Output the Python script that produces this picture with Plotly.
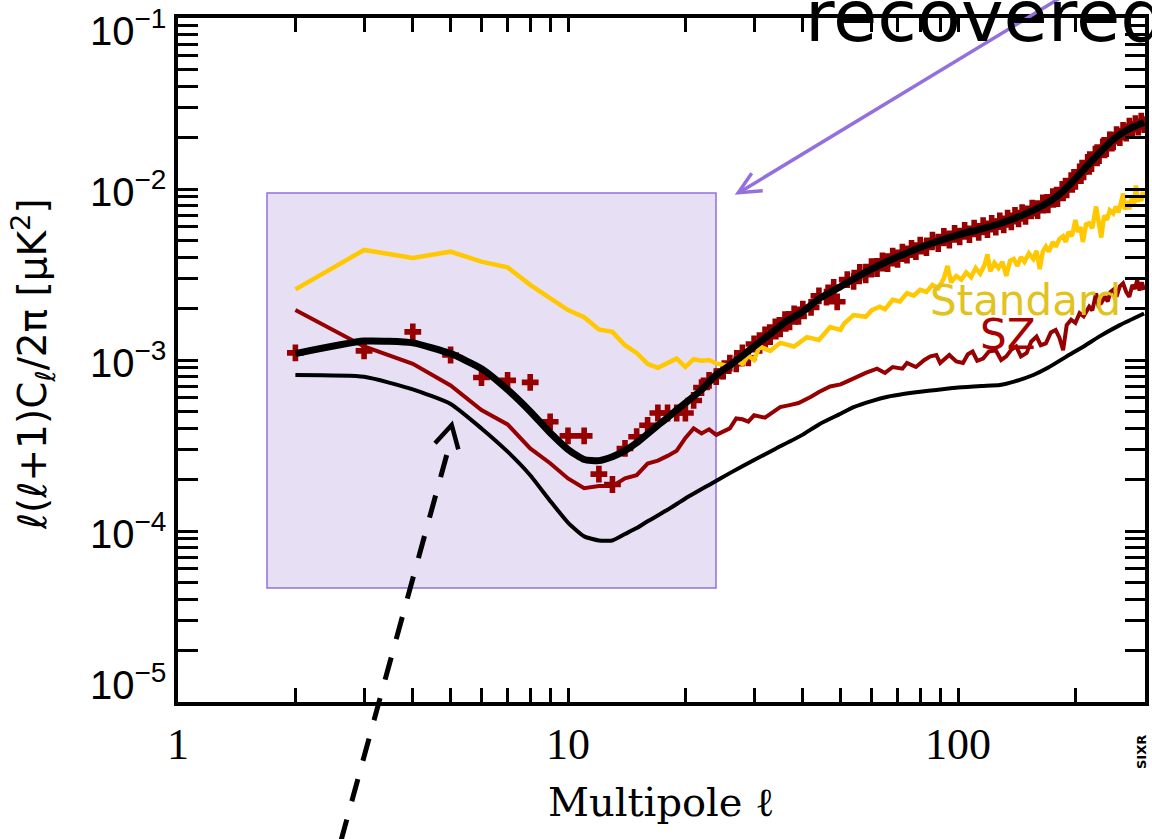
import math
import plotly.graph_objects as go

# ---------------- data ----------------
# thick black: recovered theory spectrum
ell_theory = [2, 3, 4, 5, 6, 7, 8, 9, 10, 11, 12, 13, 14, 15, 16, 17, 18, 19, 20, 22, 24, 26, 28, 30,
              33, 36, 40, 44, 48, 54, 60, 66, 72, 80, 90, 100, 115, 130, 150, 165, 180, 195, 210,
              230, 250, 275, 300]
cl_theory = [1.09e-3, 1.29e-3, 1.26e-3, 1.09e-3, 8.9e-4, 6.7e-4, 5.0e-4, 3.75e-4, 3.0e-4, 2.62e-4,
             2.58e-4, 2.72e-4, 2.95e-4, 3.28e-4, 3.7e-4, 4.15e-4, 4.6e-4, 5.1e-4, 5.6e-4, 6.7e-4,
             8.2e-4, 9.3e-4, 1.06e-3, 1.2e-3, 1.42e-3, 1.66e-3, 1.92e-3, 2.28e-3, 2.55e-3, 2.98e-3,
             3.4e-3, 3.78e-3, 4.12e-3, 4.55e-3, 5.0e-3, 5.4e-3, 5.85e-3, 6.35e-3, 7.2e-3, 8.0e-3,
             9.1e-3, 1.08e-2, 1.3e-2, 1.62e-2, 1.95e-2, 2.25e-2, 2.45e-2]

# thin black: lower theory spectrum
ell_low = [2, 3, 4, 5, 6, 7, 8, 9, 10, 11, 12, 13, 14, 15, 16, 18, 20, 23, 26, 30, 34, 40, 44, 50,
           54, 60, 66, 73, 80, 88, 100, 115, 128, 140, 156, 170, 190, 210, 230, 260, 300]
cl_low = [8.17e-4, 7.98e-4, 6.74e-4, 5.53e-4, 3.98e-4, 2.91e-4, 2.12e-4, 1.5e-4, 1.12e-4, 9.3e-5,
          8.8e-5, 8.8e-5, 9.6e-5, 1.04e-4, 1.14e-4, 1.33e-4, 1.55e-4, 1.86e-4, 2.18e-4, 2.6e-4,
          3.02e-4, 3.66e-4, 4.2e-4, 4.85e-4, 5.3e-4, 5.75e-4, 6.1e-4, 6.35e-4, 6.53e-4, 6.68e-4,
          6.9e-4, 7.05e-4, 7.14e-4, 7.5e-4, 8.17e-4, 9.0e-4, 1.05e-3, 1.2e-3, 1.37e-3, 1.6e-3,
          1.87e-3]

# dark red crosses: recovered data points
ell_data = [2, 3, 4, 5, 6, 7, 8, 9, 10, 11, 12, 13, 14, 15, 16, 17, 18, 19, 20, 21, 22, 23, 24, 25,
            26, 27, 28, 29, 30, 31, 32, 33, 34, 35, 36, 37, 38, 39, 40, 42, 44, 46, 48, 49, 52, 54,
            56, 58, 60, 62, 64, 66, 68, 70, 72, 74, 76, 78, 80, 83, 86, 89, 92, 95, 98, 101, 104,
            107, 110, 113, 116, 119, 122, 125, 128, 131, 134, 137, 140, 143, 146, 149, 155, 160,
            165, 170, 175, 180, 185, 190, 195, 200, 205, 210, 215, 220, 225, 230, 235, 240, 245,
            250, 255, 260, 265, 270, 275, 280, 285, 290, 295, 300]
cl_data = [1.10e-3, 1.13e-3, 1.46e-3, 1.07e-3, 7.9e-4, 7.6e-4, 7.4e-4, 4.35e-4, 3.6e-4, 3.6e-4,
           2.15e-4, 1.87e-4, 3.04e-4, 3.56e-4, 4.15e-4, 4.9e-4, 4.9e-4, 4.9e-4, 4.9e-4, 5.8e-4,
           6.9e-4, 7.6e-4, 8.0e-4, 8.6e-4,
           9.6e-4, 9.5e-4, 1.1e-3, 1.03e-3, 1.24e-3, 1.22e-3, 1.4e-3, 1.37e-3, 1.56e-3, 1.52e-3,
           1.72e-3, 1.67e-3, 1.86e-3, 1.8e-3, 1.98e-3, 2.03e-3, 2.37e-3, 2.33e-3, 2.66e-3, 2.19e-3,
           2.95e-3, 2.88e-3, 3.25e-3, 3.15e-3, 3.52e-3, 3.42e-3, 3.8e-3, 3.66e-3, 4.05e-3, 3.88e-3,
           4.27e-3, 4.1e-3, 4.5e-3, 4.3e-3, 4.7e-3, 4.55e-3, 5.02e-3, 4.8e-3, 5.28e-3, 5.03e-3,
           5.5e-3, 5.25e-3, 5.72e-3, 5.42e-3, 5.9e-3, 5.58e-3, 6.1e-3, 5.78e-3, 6.3e-3, 5.98e-3,
           6.5e-3, 6.17e-3, 6.75e-3, 6.43e-3, 7.02e-3, 6.68e-3, 7.28e-3, 6.92e-3, 7.72e-3, 7.47e-3,
           8.29e-3, 8.08e-3, 9.01e-3, 8.8e-3, 9.94e-3, 9.87e-3, 1.12e-2, 1.11e-2, 1.26e-2, 1.26e-2,
           1.43e-2, 1.41e-2, 1.6e-2, 1.57e-2, 1.76e-2, 1.72e-2, 1.94e-2, 1.89e-2, 2.08e-2, 2.0e-2,
           2.2e-2, 2.12e-2, 2.33e-2, 2.22e-2, 2.41e-2, 2.3e-2, 2.49e-2, 2.38e-2]

# gold: "Standard" reconstruction
ell_std = [2, 3, 4, 5, 6, 7, 8, 9, 10, 11, 12, 13, 14, 15, 16, 17, 18, 19, 20, 21, 22, 23, 24, 25,
           26, 27, 28, 29, 30, 31, 33, 35, 38, 41, 44, 47, 50, 51, 54, 58, 60, 63, 65, 68, 71, 74,
           77, 80, 83, 86, 89, 92, 94, 96, 99, 102, 105, 108, 111, 114, 117, 119, 121, 124, 127,
           130, 133, 136, 139, 142, 145, 148, 152, 156, 159, 162, 165, 168, 171, 175, 178, 182,
           186, 189, 192, 196, 200, 203, 206, 209, 213, 217, 221, 226, 229, 233, 237, 241, 245,
           250, 254, 258, 262, 265, 268, 272, 275, 279, 283, 286, 289, 292, 295, 298, 300]
cl_std = [2.59e-3, 4.4e-3, 3.95e-3, 4.3e-3, 3.76e-3, 3.48e-3, 2.75e-3, 2.3e-3, 1.96e-3, 1.78e-3,
          1.51e-3, 1.46e-3, 1.22e-3, 1.10e-3, 9.5e-4, 9.0e-4, 9.55e-4, 1.02e-3, 9.1e-4, 1.01e-3,
          9.9e-4, 1.0e-3, 9.55e-4, 9.3e-4, 9.2e-4, 9.9e-4, 9.5e-4, 1.06e-3, 1.0e-3, 1.2e-3,
          1.13e-3, 1.26e-3, 1.2e-3, 1.36e-3, 1.31e-3, 1.56e-3, 1.5e-3, 1.63e-3, 1.83e-3, 1.79e-3,
          1.95e-3, 2.05e-3, 1.98e-3, 2.25e-3, 2.2e-3, 2.46e-3, 2.38e-3, 2.57e-3, 2.5e-3, 2.75e-3,
          2.62e-3, 3.0e-3, 3.55e-3, 2.85e-3, 3.1e-3, 2.95e-3, 3.25e-3, 3.05e-3, 3.45e-3, 3.2e-3,
          3.6e-3, 4.15e-3, 3.3e-3, 3.7e-3, 3.45e-3, 3.75e-3, 3.1e-3, 3.8e-3, 3.9e-3, 3.55e-3,
          4.0e-3, 3.75e-3, 4.2e-3, 3.9e-3, 4.35e-3, 3.4e-3, 4.3e-3, 4.6e-3, 4.3e-3, 4.9e-3, 4.6e-3,
          5.1e-3, 5.3e-3, 4.9e-3, 5.6e-3, 5.3e-3, 6.6e-3, 5.6e-3, 6.0e-3, 4.9e-3, 6.2e-3, 6.3e-3,
          5.9e-3, 7.9e-3, 6.4e-3, 5.2e-3, 7.0e-3, 6.6e-3, 7.5e-3, 7.2e-3, 7.9e-3, 7.3e-3, 8.4e-3,
          9.4e-3, 7.6e-3, 8.5e-3, 7.6e-3, 8.8e-3, 8.2e-3, 1.05e-2, 8.4e-3, 9.2e-3, 8.5e-3, 9.6e-3,
          8.9e-3]

# dark red thin line: "SZ" reconstruction
ell_sz = [2, 3, 4, 5, 6, 7, 8, 9, 10, 11, 12, 13, 14, 15, 16, 17, 18, 19, 20, 21, 22, 23, 24, 26,
          27, 28, 29, 30, 32, 34, 35, 37, 39, 42, 44, 47, 50, 52, 55, 58, 62, 65, 68, 72, 74, 78,
          82, 85, 88, 90, 95, 99, 103, 106, 109, 112, 116, 120, 125, 129, 133, 137, 141, 145, 150,
          154, 159, 163, 168, 173, 178, 182, 186, 190, 195, 200, 205, 210, 217, 221, 226, 229,
          233, 238, 242, 246, 250, 255, 260, 265, 270, 275, 280, 284, 288, 292, 296, 300]
cl_sz = [1.96e-3, 1.20e-3, 9.5e-4, 7.1e-4, 5.1e-4, 4.2e-4, 3.04e-4, 2.49e-4, 2.03e-4, 1.78e-4,
         1.83e-4, 1.83e-4, 2.03e-4, 2.12e-4, 2.48e-4, 2.58e-4, 2.75e-4, 2.95e-4, 3.5e-4, 3.98e-4,
         3.72e-4, 3.93e-4, 3.65e-4, 3.98e-4, 4.55e-4, 4.5e-4, 4.36e-4, 4.75e-4, 4.6e-4, 5.1e-4,
         5.3e-4, 5.45e-4, 5.6e-4, 6.1e-4, 6.5e-4, 7.0e-4, 7.2e-4, 7.5e-4, 8.0e-4, 8.4e-4, 8.9e-4,
         8.4e-4, 9.1e-4, 8.9e-4, 9.6e-4, 9.1e-4, 1.0e-3, 1.05e-3, 1.07e-3, 9.6e-4, 1.07e-3,
         9.8e-4, 9.6e-4, 1.08e-3, 1.12e-3, 9.9e-4, 1.02e-3, 1.12e-3, 1.14e-3, 1.0e-3, 1.05e-3,
         1.15e-3, 1.2e-3, 1.05e-3, 1.1e-3, 1.28e-3, 1.37e-3, 1.22e-3, 1.25e-3, 1.45e-3, 1.5e-3,
         1.35e-3, 1.14e-3, 1.6e-3, 1.72e-3, 1.65e-3, 1.88e-3, 1.8e-3, 2.05e-3, 1.95e-3, 2.45e-3,
         2.1e-3, 2.15e-3, 2.35e-3, 2.2e-3, 2.5e-3, 2.57e-3, 2.35e-3, 2.7e-3, 2.81e-3, 2.5e-3,
         2.34e-3, 2.75e-3, 2.6e-3, 2.94e-3, 2.55e-3, 2.85e-3, 2.57e-3]

x_tick_vals = [1, 10, 100]
y_tick_vals = [1e-5, 1e-4, 1e-3, 1e-2, 1e-1]

# ---------------- styling ----------------
W, H = 1152, 839
ML, MR, MT, MB = 178, 7, 18, 137
PW, PH = W - ML - MR, H - MT - MB


def px(x):
    return (x - ML) / PW


def py(y):
    return (H - MB - y) / PH


RED = "#960000"
GOLD = "#ffc800"
PURPLE = "#9370db"

fig = go.Figure()
fig.add_trace(go.Scatter(x=ell_data, y=cl_data, mode="markers",
                         marker=dict(symbol="cross", size=14, color=RED, line=dict(width=0)),
                         showlegend=False, hoverinfo="skip"))
fig.add_trace(go.Scatter(x=ell_std, y=cl_std, mode="lines",
                         line=dict(color=GOLD, width=4.5), showlegend=False))
fig.add_trace(go.Scatter(x=ell_sz, y=cl_sz, mode="lines",
                         line=dict(color=RED, width=4), showlegend=False))
fig.add_trace(go.Scatter(x=ell_low, y=cl_low, mode="lines",
                         line=dict(color="black", width=4, shape="spline", smoothing=0.5),
                         showlegend=False))
fig.add_trace(go.Scatter(x=ell_theory, y=cl_theory, mode="lines",
                         line=dict(color="black", width=7, shape="spline", smoothing=0.5),
                         showlegend=False))

axis_common = dict(type="log", showgrid=False, zeroline=False, showline=True,
                   linecolor="black", linewidth=3.5, mirror="allticks",
                   ticks="inside", tickcolor="black", tickwidth=2.5,
                   ticklabeloverflow="allow", automargin=False)

fig.update_xaxes(**axis_common, range=[0, 2.4795], tickvals=x_tick_vals,
                 ticktext=[str(v) for v in x_tick_vals], ticklen=14,
                 tickfont=dict(family="Liberation Serif", size=44, color="black"),
                 ticklabelstandoff=0,
                 minor=dict(ticks="inside", ticklen=14, tickwidth=2.5, tickcolor="black",
                            dtick="D1", showgrid=False))
fig.update_yaxes(**axis_common, range=[-5, -1], tickvals=y_tick_vals, showticklabels=False,
                 ticklen=20,
                 minor=dict(ticks="inside", ticklen=20, tickwidth=2.5, tickcolor="black",
                            dtick="D1", showgrid=False))

shapes = [
    # highlighted low-ell region
    dict(type="rect", xref="paper", yref="paper", x0=px(267), x1=px(716), y0=py(588), y1=py(193),
         fillcolor="#e7e0f5", line=dict(color=PURPLE, width=1.5), layer="below"),
    # purple arrow
    dict(type="line", xref="paper", yref="paper", x0=px(1065), y0=py(-5), x1=px(740), y1=py(192),
         line=dict(color=PURPLE, width=3.5)),
    dict(type="path", xref="paper", yref="paper",
         path=f"M {px(751.7)},{py(173.3)} L {px(738.3)},{py(192.7)} L {px(762.7)},{py(190.7)}",
         line=dict(color=PURPLE, width=3.5)),
    # dashed black arrow
    dict(type="line", xref="paper", yref="paper", x0=px(446.7), y0=py(455), x1=px(335.7), y1=py(860),
         line=dict(color="black", width=5, dash="23px,19px")),
    dict(type="path", xref="paper", yref="paper",
         path=f"M {px(435)},{py(443.3)} L {px(451.7)},{py(425)} L {px(458.3)},{py(449.3)}",
         line=dict(color="black", width=4.5)),
]

annotations = []
# y tick labels (IDL style: the end labels are pulled inside the axis range)
label_shift = {1e-1: -10, 1e-5: 20}
for v in y_tick_vals:
    p = int(round(math.log10(v)))
    annotations.append(dict(text=f"10<sup>\u2212{abs(p)}</sup>", xref="paper", yref="y",
                            x=px(167), y=p, xanchor="right", yanchor="middle", showarrow=False,
                            yshift=label_shift.get(v, 0), borderpad=0,
                            font=dict(family="Liberation Sans", size=40, color="black")))

annotations += [
    dict(text="recovered", xref="paper", yref="paper", x=px(803), y=py(60), xanchor="left",
         yanchor="bottom", showarrow=False, font=dict(family="DejaVu Sans", size=72, color="black")),
    dict(text="Standard", xref="paper", yref="paper", x=px(1025), y=py(327), xanchor="center",
         yanchor="bottom", showarrow=False, font=dict(family="DejaVu Sans", size=42, color="#e2c21c")),
    dict(text="SZ", xref="paper", yref="paper", x=px(1007), y=py(361), xanchor="center",
         yanchor="bottom", showarrow=False, font=dict(family="DejaVu Sans", size=42, color="#aa0000")),
    dict(text="Multipole ℓ", xref="paper", yref="paper", x=px(661), y=py(827), xanchor="center",
         yanchor="bottom", showarrow=False, font=dict(family="DejaVu Serif", size=40, color="black")),
    dict(text="ℓ(ℓ+1)C<sub>ℓ</sub>/2π [μK<sup>2</sup>]", xref="paper", yref="paper",
         x=px(33), y=py(364), xanchor="center", yanchor="middle", textangle=-90, showarrow=False,
         font=dict(family="DejaVu Sans", size=39, color="black")),
    dict(text="<b>SIXR</b>", xref="paper", yref="paper", x=px(1141), y=py(752), xanchor="center",
         yanchor="middle", textangle=-90, showarrow=False,
         font=dict(family="DejaVu Sans", size=13, color="black")),
]

fig.update_layout(width=W, height=H, margin=dict(l=ML, r=MR, t=MT, b=MB),
                  paper_bgcolor="white", plot_bgcolor="white", showlegend=False,
                  shapes=shapes, annotations=annotations)

fig.write_html("out.html")
